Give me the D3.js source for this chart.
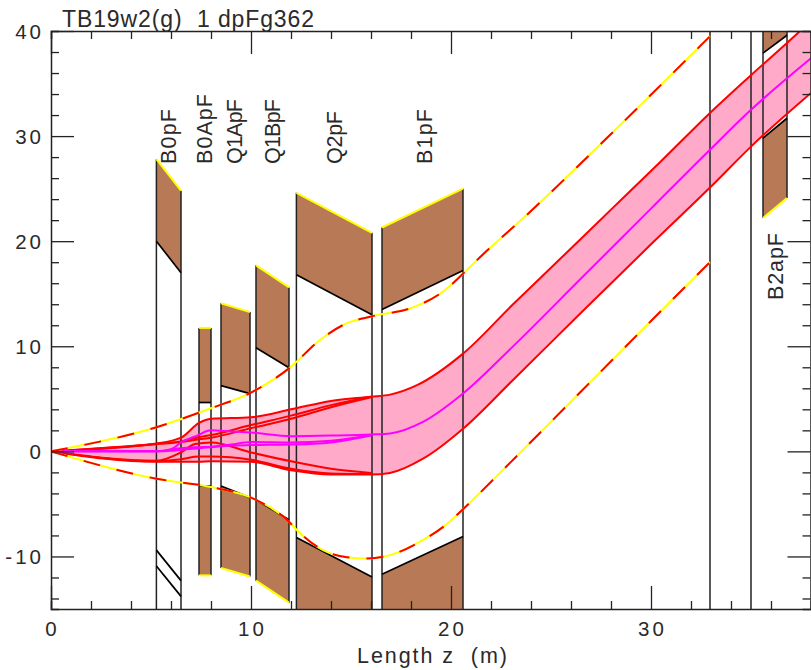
<!DOCTYPE html>
<html><head><meta charset="utf-8">
<script src="https://cdn.jsdelivr.net/npm/d3@7"></script>
<style>
html,body{margin:0;padding:0;background:#fff;overflow:hidden}
svg{display:block}
text{font-family:"Liberation Sans",Arial,sans-serif;fill:#2a2a2a;white-space:pre}
</style></head><body>
<svg id="c" width="811" height="670"></svg>
<script>
// Title and axis text
const titleText = "TB19w2(g)  1 dpFg362";
const xLabel = "Length z  (m)";
const xTickLabels = [0, 10, 20, 30];
const yTickLabels = [-10, 0, 10, 20, 30, 40];

// Optical elements
const elemNames = ["B0pF","B0ApF","Q1ApF","Q1BpF","Q2pF","B1pF","B2apF"];
const elemStart = [5.27, 7.4, 8.5, 10.25, 12.27, 16.55, 35.6];
const elemEnd   = [6.5, 8.0, 9.95, 11.9, 16.05, 20.6, 36.8];
const upOuterA = [27.8, 11.75, 14.1, 17.7, 24.6, 21.3, 47];
const upOuterB = [24.8, 11.75, 13.25, 15.6, 20.8, 25.0, 48];
const upInnerA = [20.0, 4.65, 6.25, 9.85, 16.8, 13.5, 37.9];
const upInnerB = [17.0, 4.65, 5.5, 7.95, 13.0, 17.2, 39.6];
const loInnerA = [-9.4, -3.3, -3.3, -4.6, -8.2, -11.7, 29.8];
const loInnerB = [-12.3, -3.3, -4.4, -6.5, -11.95, -8.1, 31.7];
const loOuterA = [-10.9, -11.8, -11.1, -12.3, -20, -20, 22.2];
const loOuterB = [-13.8, -11.8, -11.9, -14.4, -20, -20, 24.1];
const loFilled = [false, true, true, true, true, true, true];
const driftWalls = [32.95, 35.0];

// Beam envelope readings
const bandTopZ = [0,5.27,6.5,7.4,8,10,12,14,16,16.95,18.3,20.6,23,25.45,28,30.5,32.95,35,37.45,38];
const bandTopV = [0,0.75,1.3,2.7,3.1,3.25,4.0,4.8,5.2,5.4,6.3,9.3,13.8,18.3,23.0,27.6,32.2,35.8,40,41];
const bandBotZ = [0,5.27,7.4,8,10,12,14,16,16.95,18.6,20.6,23,26.45,30,32.95,35,38];
const bandBotV = [0,-1,-1,-0.95,-1,-1.8,-2.2,-2.2,-2.05,-0.7,2.15,6.6,13.1,19.7,25.1,29,34.1];
const ray2Z = [0,5.27,6.5,7.4,8,10,12,14,16];
const ray2V = [0,0.7,0.95,1.35,1.55,2.5,3.4,4.4,5.2];
const ray3Z = [0,5.27,6.5,7.4,8,10,12,14,16];
const ray3V = [0,0.7,0.9,1.15,1.3,2.2,3.1,4.2,5.15];
const ray4Z = [0,5.27,6.5,7.2,8,10,12,14,16];
const ray4V = [0,-0.9,-0.1,0.7,0.85,-0.1,-0.95,-1.65,-2.05];
const ray5Z = [0,5.27,6.5,7.4,8,10,12,14,16];
const ray5V = [0,-0.95,-0.75,-0.5,-0.5,-0.8,-1.65,-2.1,-2.15];
const centreZ = [0,5.27,6.0,6.5,7.3,8,9,10,12,14,16,16.95,18.6,20.6,23,26.45,30,32.95,35,38];
const centreV = [0,0,0.2,0.85,1.5,2.0,1.9,1.8,1.45,1.5,1.6,1.7,2.8,5.5,9.8,16.35,23.1,28.7,32.5,37.4];
const mag2Z = [0,5.27,6,6.5,7.4,8,9,10,12,14,16];
const mag2V = [0,0,0.15,0.3,0.4,0.45,0.65,0.9,0.85,1.0,1.55];
const mag3Z = [0,5.27,6,6.5,7.4,8,9,10,12,14,16];
const mag3V = [0,0,0.05,0.15,0.3,0.4,0.55,0.6,0.65,0.85,1.5];
const outerTopZ = [0,5.27,8,10,11.9,13.45,14.8,16.05,18.1,19.6,20.6,21.3,24,28,32.95];
const outerTopV = [0,2.3,4.1,5.6,7.9,10.6,12.2,12.85,13.7,15.2,16.9,18.2,22.87,30.2,39.5];
const outerBotZ = [0,5.27,8,10,11.9,12.3,13.6,14.8,15.8,17,18.45,19.8,20.6,23,26.45,30,32.95];
const outerBotV = [0,-2.6,-3.4,-4.4,-6.7,-7.5,-9.4,-10.07,-10.2,-9.85,-8.6,-6.9,-5.5,-1.0,5.6,12.4,18];

const W = 811, H = 670, L = 51, R = 811, T = 31, B = 609;
const x = d3.scaleLinear().domain([0, 38]).range([L, R]);
const y = d3.scaleLinear().domain([-15, 40]).range([B, T]);
const svg = d3.select("#c");
svg.append("defs").append("clipPath").attr("id","plot").append("rect")
  .attr("x",L).attr("y",T).attr("width",R-L).attr("height",B-T);
const g = svg.append("g").attr("clip-path","url(#plot)");

const pts = (zs, vs) => zs.map((z,i)=>[z,vs[i]]);
const line = d3.line().x(d=>x(d[0])).y(d=>y(d[1])).curve(d3.curveMonotoneX);
const straight = d3.line().x(d=>x(d[0])).y(d=>y(d[1]));

// pink envelope
const topPts = pts(bandTopZ, bandTopV), botPts = pts(bandBotZ, bandBotV);
g.append("path").attr("d", line(topPts) + "L" + straight(botPts.slice().reverse()).slice(1) + "Z")
  .attr("fill","#ffaac9");

// elements
elemNames.forEach((n,i)=>{
  const a = elemStart[i], b = elemEnd[i];
  g.append("path").attr("d", straight([[a,upOuterA[i]],[b,upOuterB[i]],[b,upInnerB[i]],[a,upInnerA[i]]])+"Z").attr("fill","#b87a56");
  if (loFilled[i]) g.append("path").attr("d", straight([[a,loInnerA[i]],[b,loInnerB[i]],[b,loOuterB[i]],[a,loOuterA[i]]])+"Z").attr("fill","#b87a56");
  const loEndA = loFilled[i] ? loOuterA[i] : -15, loEndB = loFilled[i] ? loOuterB[i] : -15;
  [[a,upOuterA[i],loEndA],[b,upOuterB[i],loEndB]].forEach(w=>{
    g.append("path").attr("d", straight([[w[0],w[1]],[w[0],w[2]]])).attr("stroke","#222").attr("stroke-width",1.5).attr("fill","none");
  });
  const black = [[[a,upInnerA[i]],[b,upInnerB[i]]],[[a,loInnerA[i]],[b,loInnerB[i]]]];
  if (!loFilled[i]) black.push([[a,loOuterA[i]],[b,loOuterB[i]]]);
  black.forEach(s=>g.append("path").attr("d",straight(s)).attr("stroke","#000").attr("stroke-width",1.7).attr("fill","none"));
  const yellow = [[[a,upOuterA[i]],[b,upOuterB[i]]]];
  if (loFilled[i]) yellow.push([[a,loOuterA[i]],[b,loOuterB[i]]]);
  yellow.forEach(s=>g.append("path").attr("d",straight(s)).attr("stroke","#ffff00").attr("stroke-width",2).attr("fill","none"));
});
driftWalls.forEach(z=>g.append("path").attr("d",straight([[z,40],[z,-15]])).attr("stroke","#222").attr("stroke-width",1.5));

// rays
[[ray5Z,ray5V],[ray4Z,ray4V],[ray3Z,ray3V],[ray2Z,ray2V],[bandBotZ,bandBotV],[bandTopZ,bandTopV]].forEach(r=>
  g.append("path").attr("d",line(pts(r[0],r[1]))).attr("fill","none").attr("stroke","#ff0000").attr("stroke-width",2));
[[mag3Z,mag3V],[mag2Z,mag2V],[centreZ,centreV]].forEach(r=>
  g.append("path").attr("d",line(pts(r[0],r[1]))).attr("fill","none").attr("stroke","#ff00ff").attr("stroke-width",2));
[[outerTopZ,outerTopV],[outerBotZ,outerBotV]].forEach(r=>{
  const d = line(pts(r[0],r[1]));
  g.append("path").attr("d",d).attr("fill","none").attr("stroke","#ffff00").attr("stroke-width",2);
  g.append("path").attr("d",d).attr("fill","none").attr("stroke","#ff0000").attr("stroke-width",2).attr("stroke-dasharray","17 17");
});

// frame and ticks through d3 axes
const xMinor = d3.range(0,39,2), yMinor = d3.range(-14,41,2);
function ax(gen, tr, vals, key){
  const a = svg.append("g").attr("transform",tr).call(gen.tickValues(vals).tickFormat("").tickSizeOuter(0).tickSize(8));
  a.selectAll("path").attr("stroke","#222").attr("stroke-width",1.5);
  a.selectAll("line").attr("stroke","#222").attr("stroke-width",1.3);
  a.selectAll(".tick").filter(d=>d%10===0).select("line").attr(key, function(){ return (+d3.select(this).attr(key) > 0 ? 23 : -23); });
}
ax(d3.axisTop(x), `translate(0,${B})`, xMinor, "y2");
ax(d3.axisBottom(x), `translate(0,${T})`, xMinor, "y2");
ax(d3.axisRight(y), `translate(${L},0)`, yMinor, "x2");
ax(d3.axisLeft(y), `translate(${R-0.5},0)`, yMinor, "x2");

// text
svg.append("text").attr("x",62).attr("y",26.5).attr("font-size",23).attr("textLength",252).attr("lengthAdjust","spacing").text(titleText);
svg.append("text").attr("x",357).attr("y",663).attr("font-size",21.5).attr("textLength",150).attr("lengthAdjust","spacing").text(xLabel);
xTickLabels.forEach(v=>svg.append("text").attr("x",x(v)+1.5).attr("y",636).attr("text-anchor","middle").attr("font-size",20.5).attr("letter-spacing",3).text(v));
yTickLabels.forEach(v=>svg.append("text").attr("x",44).attr("y",y(v)+7.5).attr("text-anchor","end").attr("font-size",20.5).attr("letter-spacing",3).text(v));
const labelBase = [176,212,242,280,342,432,783];
const labelStart = [164,164,164,164,164,164,300];
const labelLen = [55,70,65,65,53,55,67];
elemNames.forEach((n,i)=>svg.append("text").attr("transform",`translate(${labelBase[i]},${labelStart[i]}) rotate(-90)`).attr("font-size",21.5).attr("textLength",labelLen[i]).attr("lengthAdjust","spacing").text(n));
</script>
</body></html>
